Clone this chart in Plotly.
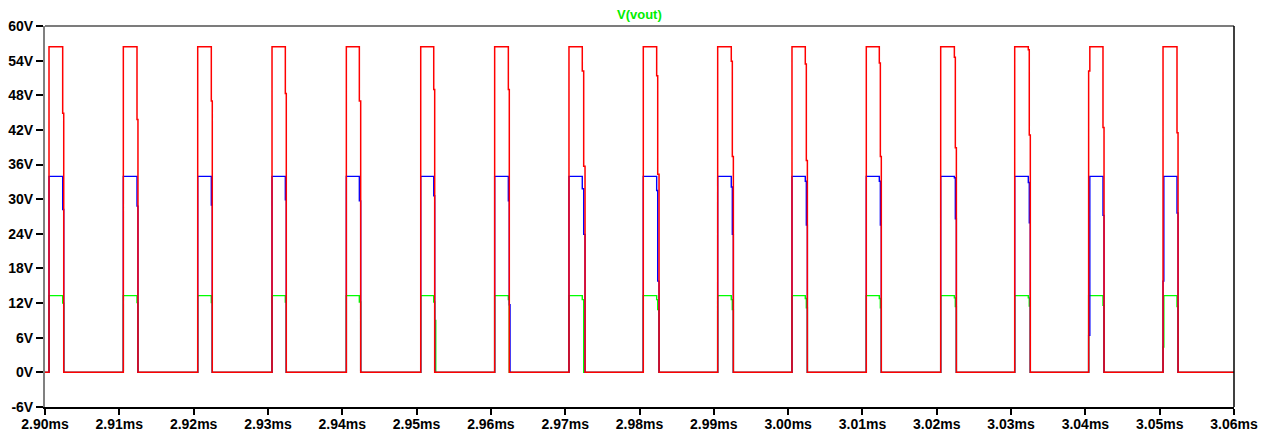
import plotly.graph_objects as go

# ---------------- data (times in ms, values in V) ----------------
rise_t  = [2.90054, 2.91054, 2.92055, 2.93055, 2.94055, 2.95056, 2.96051, 2.97051,
           2.98051, 2.99052, 3.00052, 3.01052, 3.02053, 3.03049, 3.04044, 3.05045]
rise2_t = [None, None, None, None, None, None, None, None,
           None, None, None, None, None, None, 3.04060, 3.05056]
fall1_t = [2.90238, 2.91238, 2.92238, 2.93234, 2.94230, 2.95231, 2.96235, 2.97230,
           2.98231, 2.99235, 3.00231, 3.01227, 3.02237, 3.03232, 3.04237, 3.05233]
fall2_t = [None, None, None, None, None, None, None, 2.97249,
           2.98245, 2.99249, 3.00245, 3.01241, 3.02250, 3.03245, None, None]
end_t   = [2.90252, 2.91251, 2.92251, 2.93247, 2.94248, 2.95244, 2.96248, 2.97267,
           2.98263, 2.99263, 3.00259, 3.01254, 3.02264, 3.03259, 3.04251, 3.05247]
tail_t  = [None, None, None, None, None, 2.95258, 2.96258, None,
           None, None, None, None, None, None, None, None]

red_top  = [56.4] * 16
red_pre  = [None] * 14 + [52.2, None]
red_mid1 = [44.9, 43.8, 47.0, 48.3, 47.0, 49.0, 49.0, 52.2,
            51.4, 53.9, 53.4, 53.6, 54.6, 55.9, 42.4, 41.5]
red_mid2 = [None, None, None, None, None, None, None, 35.7,
            34.3, 37.4, 36.7, 37.4, 38.9, 41.1, None, None]

blue_top  = [33.95] * 16
blue_pre  = [None] * 14 + [6.4, 15.8]
blue_low1 = [28.2, 28.8, 29.0, 29.9, 29.7, 30.6, 29.7, 31.8,
             31.5, 32.1, 33.1, 33.1, 33.7, 32.9, 27.2, 27.6]
blue_low2 = [None, None, None, None, None, None, None, 23.9,
             15.8, 23.9, 25.5, 25.5, 26.6, 25.9, None, None]
blue_tail = [None, None, None, None, None, None, 11.7, None,
             None, None, None, None, None, None, None, None]

green_top  = [13.3] * 16
green_pre  = [None] * 15 + [4.4]
green_low1 = [12.0, 12.1, 12.1, 12.2, 12.2, 12.2, 12.6, 12.6,
              12.6, 12.6, 12.8, 12.8, 12.9, 12.9, 11.6, 11.4]
green_low2 = [None, None, None, None, None, None, None, 0.0,
              10.9, 10.9, 11.2, 11.2, 11.4, 11.5, None, None]
green_tail = [None, None, None, None, None, 9.0, None, None,
              None, None, None, None, None, None, None, None]

x_tickvals = [2.90, 2.91, 2.92, 2.93, 2.94, 2.95, 2.96, 2.97, 2.98,
              2.99, 3.00, 3.01, 3.02, 3.03, 3.04, 3.05, 3.06]
x_ticktext = ["2.90ms", "2.91ms", "2.92ms", "2.93ms", "2.94ms", "2.95ms", "2.96ms",
              "2.97ms", "2.98ms", "2.99ms", "3.00ms", "3.01ms", "3.02ms", "3.03ms",
              "3.04ms", "3.05ms", "3.06ms"]
y_tickvals = [-6, 0, 6, 12, 18, 24, 30, 36, 42, 48, 54, 60]
y_ticktext = ["-6V", "0V", "6V", "12V", "18V", "24V", "30V", "36V",
              "42V", "48V", "54V", "60V"]
t_start, t_stop = 2.90, 3.06


def build(top, pre, low1, low2, tail):
    xs, ys = [t_start], [0.0]
    for i in range(len(rise_t)):
        r = rise_t[i]
        if pre[i] is not None:
            xs += [r, r, rise2_t[i], rise2_t[i]]
            ys += [0.0, pre[i], pre[i], top[i]]
        else:
            xs += [r, r]
            ys += [0.0, top[i]]
        xs += [fall1_t[i], fall1_t[i]]
        ys += [top[i], low1[i]]
        last = low1[i]
        if low2[i] is not None and fall2_t[i] is not None:
            xs += [fall2_t[i], fall2_t[i]]
            ys += [last, low2[i]]
            last = low2[i]
        if tail[i] is not None:
            xs += [end_t[i], end_t[i], tail_t[i], tail_t[i]]
            ys += [last, tail[i], tail[i], 0.0]
        else:
            xs += [end_t[i], end_t[i]]
            ys += [last, 0.0]
    xs.append(t_stop)
    ys.append(0.0)
    return xs, ys


gx, gy = build(green_top, green_pre, green_low1, green_low2, green_tail)
bx, by = build(blue_top, blue_pre, blue_low1, blue_low2, blue_tail)
rx, ry = build(red_top, red_pre, red_mid1, red_mid2, [None] * 16)

fig = go.Figure()
fig.add_trace(go.Scatter(x=gx, y=gy, mode="lines", line=dict(color="#00FF00", width=1.4),
                         name="V(vout)", showlegend=False))
fig.add_trace(go.Scatter(x=bx, y=by, mode="lines", line=dict(color="#0000FF", width=1.4),
                         showlegend=False))
fig.add_trace(go.Scatter(x=rx, y=ry, mode="lines", line=dict(color="#FF0000", width=1.5),
                         showlegend=False))

tickfont = dict(family="Liberation Sans, Arial, sans-serif", size=14, color="#000000", weight="bold")

fig.update_layout(
    width=1270, height=436,
    margin=dict(l=45, r=36, t=26, b=29, autoexpand=False),
    paper_bgcolor="white", plot_bgcolor="white",
    xaxis=dict(range=[t_start, t_stop], tickvals=x_tickvals, ticktext=x_ticktext,
               automargin=False, ticklabelstandoff=-3,
               showgrid=False, zeroline=False, showline=True, linecolor="#000000",
               linewidth=1.5, ticks="outside", ticklen=6, tickcolor="#000000",
               tickwidth=1.5, tickfont=tickfont),
    yaxis=dict(range=[-6, 60], tickvals=y_tickvals, ticktext=y_ticktext,
               automargin=False,
               showgrid=False, zeroline=False, showline=True, linecolor="#808080",
               linewidth=2, ticks="outside", ticklen=7, tickcolor="#000000",
               tickwidth=1.5, tickfont=tickfont),
    shapes=[
        dict(type="line", xref="paper", yref="paper", x0=0, x1=1, y0=1, y1=1,
             line=dict(color="#505050", width=1.5)),
        dict(type="line", xref="paper", yref="paper", x0=1, x1=1, y0=0, y1=1,
             line=dict(color="#000000", width=1.5)),
    ],
    annotations=[
        dict(text="V(vout)", xref="paper", yref="paper", x=0.5, y=1, yshift=2,
             xanchor="center", yanchor="bottom", showarrow=False,
             font=dict(family="Liberation Sans, Arial, sans-serif", size=13,
                       color="#00EE00", weight="bold")),
    ],
)

fig.write_html("out.html", config={"displayModeBar": False},
               post_script="document.body.style.margin='0';document.body.style.overflow='hidden';")
